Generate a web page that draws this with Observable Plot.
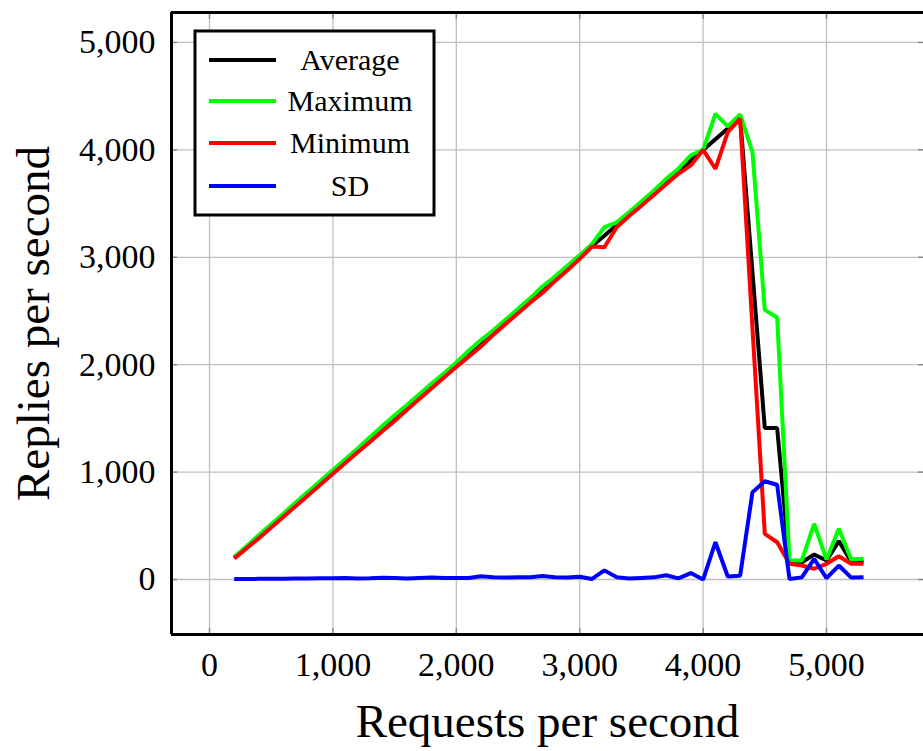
<!DOCTYPE html>
<html>
<head>
<meta charset="utf-8">
<script src="https://cdn.jsdelivr.net/npm/d3@7"></script>
<script src="https://cdn.jsdelivr.net/npm/@observablehq/plot@0.6"></script>
<style>
  html, body { margin: 0; padding: 0; background: #fff; }
  #chart { width: 923px; height: 751px; }
</style>
</head>
<body>
<div id="chart"></div>
<script>
const requests = [200, 300, 400, 500, 600, 700, 800, 900, 1000, 1100, 1200, 1300, 1400, 1500, 1600, 1700, 1800, 1900, 2000,
  2100, 2200, 2300, 2400, 2500, 2600, 2700, 2800, 2900, 3000, 3100, 3200, 3300, 3400, 3500, 3600, 3700, 3800, 3900, 4000,
  4100, 4200, 4300, 4400, 4500, 4600, 4700, 4800, 4900, 5000, 5100, 5200, 5300];

const average = [205, 300, 400, 500, 600, 700, 800, 900, 1000, 1100, 1200, 1300, 1400, 1500, 1600, 1700, 1800, 1900, 2000,
  2100, 2200, 2300, 2400, 2500, 2600, 2700, 2800, 2900, 3000, 3105, 3200, 3300, 3400, 3500, 3600, 3700, 3800, 3900, 4000,
  4100, 4200, 4300, 2860, 1410, 1410, 161, 161, 233, 177, 357, 169, 165];

const maximum = [210, 310, 415, 515, 615, 720, 820, 920, 1020, 1120, 1220, 1325, 1430, 1530, 1625, 1725, 1825, 1920, 2020,
  2130, 2230, 2320, 2420, 2520, 2620, 2730, 2820, 2920, 3020, 3125, 3280, 3325, 3420, 3520, 3620, 3730, 3825, 3950, 4000,
  4336, 4218, 4330, 3980, 2510, 2440, 177, 177, 519, 186, 472, 186, 193];

const minimum = [195, 290, 385, 485, 585, 685, 785, 885, 985, 1085, 1185, 1280, 1380, 1475, 1580, 1680, 1780, 1880, 1980,
  2075, 2170, 2280, 2380, 2480, 2580, 2670, 2780, 2880, 2985, 3100, 3094, 3280, 3385, 3480, 3580, 3680, 3777, 3855, 4000,
  3824, 4165, 4290, 2340, 425, 347, 146, 130, 100, 146, 217, 146, 146];

const sd = [5, 4, 6, 7, 8, 9, 10, 11, 12, 14, 10, 12, 17, 15, 10, 15, 18, 15, 14,
  15, 30, 22, 18, 20, 20, 32, 22, 18, 25, 5, 85, 20, 10, 15, 20, 40, 10, 60, 0,
  347, 28, 35, 813, 915, 882, 5, 20, 192, 12, 130, 18, 20];

const seriesNames = ["Average", "Maximum", "Minimum", "SD"];
const seriesColors = ["#000000", "#00ff00", "#ff0000", "#0000ff"];
const xTicks = [0, 1000, 2000, 3000, 4000, 5000];
const yTicks = [0, 1000, 2000, 3000, 4000, 5000];
const xLabel = "Requests per second";
const yLabel = "Replies per second";

const seriesValues = [average, maximum, minimum, sd];
const rows = [];
seriesNames.forEach((name, k) => {
  requests.forEach((x, i) => rows.push({series: name, x, y: seriesValues[k][i]}));
});

const xDomain = [-308, 5786];
const yDomain = [-512, 5279];
const fmt = d3.format(",");
const serif = "'Liberation Serif', 'DejaVu Serif', serif";

const chart = Plot.plot({
  width: 923,
  height: 751,
  marginLeft: 171,
  marginRight: 0,
  marginTop: 12,
  marginBottom: 117,
  style: {fontFamily: serif, background: "#fff", overflow: "visible"},
  x: {domain: xDomain},
  y: {domain: yDomain},
  color: {domain: seriesNames, range: seriesColors},
  marks: [
    Plot.gridX(xTicks, {stroke: "#c0c0c0", strokeOpacity: 1, strokeWidth: 1.3}),
    Plot.gridY(yTicks, {stroke: "#c0c0c0", strokeOpacity: 1, strokeWidth: 1.3}),
    Plot.axisX(xTicks, {anchor: "bottom", tickSize: 0, tickPadding: 17, fontSize: 34, tickFormat: fmt, label: null, fill: "#000"}),
    Plot.axisY(yTicks, {anchor: "left", tickSize: 0, tickPadding: 16, fontSize: 34, tickFormat: fmt, label: null, fill: "#000"}),
    Plot.axisX(xTicks, {anchor: "bottom", tickSize: -6, tickFormat: () => "", label: null, stroke: "#808080", strokeWidth: 1.3}),
    Plot.axisX(xTicks, {anchor: "top", tickSize: -6, tickFormat: () => "", label: null, stroke: "#808080", strokeWidth: 1.3}),
    Plot.axisY(yTicks, {anchor: "left", tickSize: -6, tickFormat: () => "", label: null, stroke: "#808080", strokeWidth: 1.3}),
    Plot.axisY(yTicks, {anchor: "right", tickSize: -6, tickFormat: () => "", label: null, stroke: "#808080", strokeWidth: 1.3}),
    Plot.line(rows, {x: "x", y: "y", z: "series", stroke: "series", strokeWidth: 4, strokeLinejoin: "miter", strokeLinecap: "butt"}),
    Plot.ruleX([xDomain[0]], {stroke: "#000", strokeWidth: 3}),
    Plot.ruleY([yDomain[0], yDomain[1]], {stroke: "#000", strokeWidth: 3}),
    Plot.text([xLabel], {frameAnchor: "bottom", dy: 102, fontSize: 47, fill: "#000", fontFamily: serif, lineAnchor: "bottom"}),
    Plot.text([yLabel], {frameAnchor: "left", textAnchor: "middle", dx: -138, rotate: -90, fontSize: 47, fill: "#000", fontFamily: serif})
  ]
});

document.getElementById("chart").appendChild(chart);

// Legend inside the plot area (upper left)
const svg = d3.select(chart);
const lg = svg.append("g").attr("font-family", serif);
lg.append("rect").attr("x", 195).attr("y", 31).attr("width", 239).attr("height", 184)
  .attr("fill", "#fff").attr("stroke", "#000").attr("stroke-width", 3);
const rowY = [60, 101, 143, 186];
seriesNames.forEach((name, i) => {
  lg.append("line").attr("x1", 209).attr("x2", 276).attr("y1", rowY[i]).attr("y2", rowY[i])
    .attr("stroke", seriesColors[i]).attr("stroke-width", 4);
  lg.append("text").attr("x", 350).attr("y", rowY[i]).attr("dy", "0.33em")
    .attr("text-anchor", "middle").attr("font-size", 30).attr("fill", "#000").text(name);
});
</script>
</body>
</html>
